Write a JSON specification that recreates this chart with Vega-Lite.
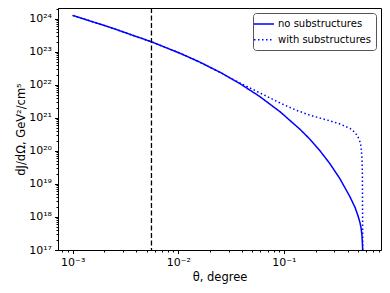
{
  "$schema": "https://vega.github.io/schema/vega-lite/v6.json",
  "autosize": {"type": "none"},
  "width": 323,
  "height": 242,
  "padding": {"left": 58, "top": 8, "right": 9, "bottom": 43},
  "background": "white",
  "config": {
    "font": "DejaVu Sans",
    "view": {"stroke": "black", "strokeWidth": 1},
    "axis": {"grid": false, "domainColor": "black", "tickColor": "black", "labelColor": "black", "titleColor": "black", "labelFont": "DejaVu Sans", "titleFont": "DejaVu Sans", "labelFontSize": 11, "titleFontSize": 11.5, "titleFontWeight": "normal", "labelOverlap": false, "labelFlush": false}
  },
  "datasets": {
    "curves": [
      {"theta": 0.001, "J": 1.259e24, "series": "no substructures"},
      {"theta": 0.002243, "J": 5.526e23, "series": "no substructures"},
      {"theta": 0.005608, "J": 1.982e23, "series": "no substructures"},
      {"theta": 0.01033, "J": 9.07e22, "series": "no substructures"},
      {"theta": 0.01599, "J": 4.84e22, "series": "no substructures"},
      {"theta": 0.02473, "J": 2.409e22, "series": "no substructures"},
      {"theta": 0.03077, "J": 1.619e22, "series": "no substructures"},
      {"theta": 0.03826, "J": 1.087e22, "series": "no substructures"},
      {"theta": 0.05922, "J": 4.389e21, "series": "no substructures"},
      {"theta": 0.09165, "J": 1.541e21, "series": "no substructures"},
      {"theta": 0.1418, "J": 4.513e20, "series": "no substructures"},
      {"theta": 0.1764, "J": 2.246e20, "series": "no substructures"},
      {"theta": 0.2194, "J": 1.007e20, "series": "no substructures"},
      {"theta": 0.2729, "J": 4.065e19, "series": "no substructures"},
      {"theta": 0.3395, "J": 1.427e19, "series": "no substructures"},
      {"theta": 0.4222, "J": 4.065e18, "series": "no substructures"},
      {"theta": 0.471, "J": 1.954e18, "series": "no substructures"},
      {"theta": 0.5028, "J": 1.087e18, "series": "no substructures"},
      {"theta": 0.5254, "J": 6.674e17, "series": "no substructures"},
      {"theta": 0.537, "J": 4.707e17, "series": "no substructures"},
      {"theta": 0.5487, "J": 2.694e17, "series": "no substructures"},
      {"theta": 0.5548, "J": 1.341e17, "series": "no substructures"},
      {"theta": 0.5559, "J": 1e17, "series": "no substructures"},
      {"theta": 0.001, "J": 1.259e24, "series": "with substructures"},
      {"theta": 0.002243, "J": 5.526e23, "series": "with substructures"},
      {"theta": 0.005608, "J": 1.982e23, "series": "with substructures"},
      {"theta": 0.01033, "J": 9.07e22, "series": "with substructures"},
      {"theta": 0.01599, "J": 4.84e22, "series": "with substructures"},
      {"theta": 0.02473, "J": 2.409e22, "series": "with substructures"},
      {"theta": 0.03077, "J": 1.619e22, "series": "with substructures"},
      {"theta": 0.03826, "J": 1.142e22, "series": "with substructures"},
      {"theta": 0.04761, "J": 8.055e21, "series": "with substructures"},
      {"theta": 0.06605, "J": 4.773e21, "series": "with substructures"},
      {"theta": 0.09165, "J": 2.828e21, "series": "with substructures"},
      {"theta": 0.1271, "J": 1.76e21, "series": "with substructures"},
      {"theta": 0.1764, "J": 1.199e21, "series": "with substructures"},
      {"theta": 0.2446, "J": 8.945e20, "series": "with substructures"},
      {"theta": 0.3395, "J": 6.535e20, "series": "with substructures"},
      {"theta": 0.4222, "J": 4.773e20, "series": "with substructures"},
      {"theta": 0.471, "J": 3.612e20, "series": "with substructures"},
      {"theta": 0.5028, "J": 2.638e20, "series": "with substructures"},
      {"theta": 0.5254, "J": 1.861e20, "series": "with substructures"},
      {"theta": 0.537, "J": 1.36e20, "series": "with substructures"},
      {"theta": 0.5487, "J": 5.886e19, "series": "with substructures"},
      {"theta": 0.5535, "J": 1.874e19, "series": "with substructures"},
      {"theta": 0.5572, "J": 1e17, "series": "with substructures"}
    ],
    "marker": [{"theta": 0.00557}]
  },
  "layer": [
    {
      "data": {"name": "curves"},
      "mark": {"type": "line", "color": "#0000ff", "strokeWidth": 1.5, "clip": true},
      "encoding": {
        "x": {
          "field": "theta", "type": "quantitative",
          "scale": {"type": "log", "domain": [0.000726, 0.83], "nice": false},
          "axis": {
            "title": "θ, degree",
            "values": [0.0008, 0.0009, 0.001, 0.002, 0.003, 0.004, 0.005, 0.006, 0.007, 0.008, 0.009, 0.01, 0.02, 0.03, 0.04, 0.05, 0.06, 0.07, 0.08, 0.09, 0.1, 0.2, 0.3, 0.4, 0.5, 0.6, 0.7, 0.8],
            "labelExpr": "abs(log(datum.value)/LN10 - round(log(datum.value)/LN10)) < 0.01 ? ['10⁻³','10⁻²','10⁻¹'][round(log(datum.value)/LN10)+3] : ''",
            "tickSize": {"condition": {"test": "abs(log(datum.value)/LN10 - round(log(datum.value)/LN10)) < 0.01", "value": 3.5}, "value": 2},
            "labelPadding": 3,
            "titlePadding": 4
          }
        },
        "y": {
          "field": "J", "type": "quantitative",
          "scale": {"type": "log", "domain": [1e17, 2.11e24], "nice": false},
          "axis": {
            "title": "dJ/dΩ, GeV²/cm⁵",
            "values": [1e17, 2e17, 3e17, 4e17, 5e17, 6e17, 7e17, 8e17, 9e17, 1e18, 2e18, 3e18, 4e18, 5e18, 6e18, 7e18, 8e18, 9e18, 1e19, 2e19, 3e19, 4e19, 5e19, 6e19, 7e19, 8e19, 9e19, 1e20, 2e20, 3e20, 4e20, 5e20, 6e20, 7e20, 8e20, 9e20, 1e21, 2e21, 3e21, 4e21, 5e21, 6e21, 7e21, 8e21, 9e21, 1e22, 2e22, 3e22, 4e22, 5e22, 6e22, 7e22, 8e22, 9e22, 1e23, 2e23, 3e23, 4e23, 5e23, 6e23, 7e23, 8e23, 9e23, 1e24, 2e24],
            "labelExpr": "abs(log(datum.value)/LN10 - round(log(datum.value)/LN10)) < 0.01 ? ['10¹⁷','10¹⁸','10¹⁹','10²⁰','10²¹','10²²','10²³','10²⁴'][round(log(datum.value)/LN10)-17] : ''",
            "tickSize": {"condition": {"test": "abs(log(datum.value)/LN10 - round(log(datum.value)/LN10)) < 0.01", "value": 3.5}, "value": 2},
            "labelPadding": 3,
            "titlePadding": 2
          }
        },
        "strokeDash": {
          "field": "series", "type": "nominal",
          "scale": {"domain": ["no substructures", "with substructures"], "range": [[1, 0], [1.5, 2.5]]},
          "legend": {
            "title": null, "orient": "top-right", "offset": 5,
            "fillColor": "white", "strokeColor": "#555555", "cornerRadius": 3, "padding": 5,
            "symbolType": "M-2,0H2", "symbolStrokeColor": "#0000ff", "symbolFillColor": "transparent", "symbolStrokeWidth": 1.5, "symbolSize": 100,
            "labelFontSize": 10, "labelFont": "DejaVu Sans", "labelColor": "black", "rowPadding": 4.7, "labelOffset": 8
          }
        }
      }
    },
    {
      "data": {"name": "marker"},
      "mark": {"type": "rule", "color": "black", "strokeWidth": 1.3, "strokeDash": [5, 2.5]},
      "encoding": {
        "x": {"field": "theta", "type": "quantitative"}
      }
    }
  ]
}
